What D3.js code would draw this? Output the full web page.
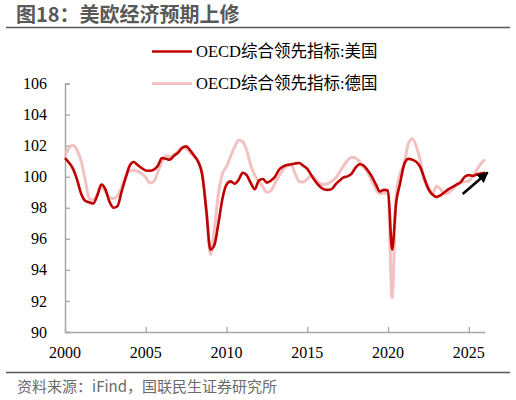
<!DOCTYPE html>
<html>
<head>
<meta charset="utf-8">
<script src="https://cdn.jsdelivr.net/npm/d3@7"></script>
<style>
  body { margin: 0; background: #fff; }
  svg { display: block; }
</style>
</head>
<body>
<div id="chart"></div>
<script>
// quarterly points, Jan 2000 .. Jan 2026
const dates = d3.timeMonth.every(3).range(new Date(2000, 0, 1), new Date(2026, 0, 2));

const usValues = [
  101.2, 100.9, 100.5, 99.8, 98.9, 98.45, 98.35, 98.27,      // 2000-2001
  98.8, 99.5, 99.2, 98.4, 98.0, 98.1, 99.0, 99.9,            // 2002-2003
  100.7, 100.95, 100.75, 100.55, 100.4, 100.38, 100.45, 100.7, // 2004-2005
  101.2, 101.15, 101.1, 101.35, 101.55, 101.85, 101.95, 101.7, // 2006-2007
  101.35, 100.95, 100.1, 97.8, 95.3, 95.6, 97.0, 98.6,       // 2008-2009
  99.5, 99.7, 99.55, 99.8, 100.25, 100.1, 99.6, 99.2,        // 2010-2011
  99.75, 99.85, 99.62, 99.75, 100.0, 100.45, 100.65, 100.75, // 2012-2013
  100.8, 100.85, 100.88, 100.7, 100.5, 100.1, 99.7, 99.4,    // 2014-2015
  99.2, 99.15, 99.2, 99.5, 99.75, 99.95, 100.02, 100.2,      // 2016-2017
  100.6, 100.8, 100.7, 100.4, 100.0, 99.5, 99.05, 99.15,     // 2018-2019
  99.1, 95.3, 98.3, 99.6, 100.8, 101.15, 101.1, 100.95,      // 2020-2021
  100.6, 99.9, 99.2, 98.85, 98.7, 98.8, 99.0, 99.2,          // 2022-2023
  99.35, 99.5, 99.65, 100.0, 100.1, 100.05, 100.15, 100.2,   // 2024-2025
  100.25                                                     // 2026
];

const deValues = [
  101.3, 101.85, 102.03, 101.7, 101.0, 99.8, 98.6, 98.5,
  98.85, 99.3, 99.05, 98.65, 98.6, 98.75, 99.3, 100.0,
  100.37, 100.4, 100.35, 100.2, 99.95, 99.6, 99.7, 100.3,
  100.95, 101.33, 101.3, 101.4, 101.65, 101.88, 101.8, 101.55,
  101.3, 101.0, 100.2, 97.9, 95.0, 96.6, 98.9, 100.2,
  100.65, 101.3, 101.9, 102.35, 102.25, 101.7, 100.75, 100.1,
  99.7, 99.35, 99.0, 99.1, 99.6, 100.05, 100.45, 100.7,
  100.75, 100.2, 99.7, 99.65, 99.85, 100.05, 99.85, 99.6,
  99.5, 99.55, 99.7, 99.9, 100.3, 100.7, 101.05, 101.25,
  101.2, 100.95, 100.6, 100.25, 99.7, 99.2, 98.9, 98.95,
  98.9, 92.2, 98.8, 100.2, 100.85, 102.1, 102.45, 101.95,
  101.0, 99.7, 99.35, 98.9, 99.4, 99.2, 98.9, 98.97,
  99.2, 99.45, 99.6, 99.68, 99.72, 100.05, 100.45, 100.85,
  101.1
];

const seriesNames = ["OECD综合领先指标:美国", "OECD综合领先指标:德国"];
const seriesColors = ["#C00000", "#F2C2C2"];
const yTicks = [90, 92, 94, 96, 98, 100, 102, 104, 106];
const xTickYears = [2000, 2005, 2010, 2015, 2020, 2025];

// arrow annotation (date, value) -> (date, value)
const arrowFrom = [new Date(2024, 7, 15), 98.88];
const arrowTo = [new Date(2026, 2, 1), 100.27];

const width = 516, height = 400;
const serif = "'Liberation Serif', 'Times New Roman', 'Noto Sans CJK SC', serif";
const sans = "'Noto Sans CJK SC', 'Noto Sans', sans-serif";

const svg = d3.select("#chart").append("svg")
    .attr("width", width)
    .attr("height", height);

// title + rules
svg.append("text")
    .attr("x", 16).attr("y", 22)
    .attr("font-family", sans)
    .attr("font-weight", "bold")
    .attr("font-size", 20)
    .attr("fill", "#595959")
    .text("图18：美欧经济预期上修");

svg.append("line")
    .attr("x1", 6).attr("x2", 510).attr("y1", 27.5).attr("y2", 27.5)
    .attr("stroke", "#595959").attr("stroke-width", 1.6);

svg.append("line")
    .attr("x1", 6).attr("x2", 510).attr("y1", 372.5).attr("y2", 372.5)
    .attr("stroke", "#595959").attr("stroke-width", 1.6);

svg.append("text")
    .attr("x", 17).attr("y", 392)
    .attr("font-family", sans)
    .attr("font-size", 15)
    .attr("fill", "#6b6b6b")
    .text("资料来源：iFind，国联民生证券研究所");

// scales
const x = d3.scaleTime()
    .domain([new Date(2000, 0, 1), new Date(2026, 0, 1)])
    .range([65, 485]);

const y = d3.scaleLinear()
    .domain([90, 106])
    .range([332, 83.5]);

const axisColor = "#a6a6a6";

// y axis, ticks inside
const yAxis = svg.append("g")
    .attr("transform", "translate(65,0)")
    .call(d3.axisRight(y).tickValues(yTicks).tickSize(5).tickFormat(""));
yAxis.select(".domain").attr("stroke", axisColor).attr("stroke-width", 1.5);
yAxis.selectAll(".tick line").attr("stroke", axisColor).attr("stroke-width", 1.3);

svg.append("g").selectAll("text")
    .data(yTicks)
    .join("text")
    .attr("x", 47)
    .attr("y", d => y(d))
    .attr("dy", "0.35em")
    .attr("text-anchor", "end")
    .attr("font-family", serif)
    .attr("font-size", 16)
    .attr("fill", "#000")
    .text(d => d);

// x axis, ticks inside
const xAxis = svg.append("g")
    .attr("transform", "translate(0,332)")
    .call(d3.axisTop(x)
        .tickValues(xTickYears.map(v => new Date(v, 0, 1)))
        .tickSize(5).tickSizeOuter(0).tickFormat(""));
xAxis.select(".domain").attr("stroke", axisColor).attr("stroke-width", 1.5);
xAxis.selectAll(".tick line").attr("stroke", axisColor).attr("stroke-width", 1.3);

svg.append("g").selectAll("text")
    .data(xTickYears)
    .join("text")
    .attr("x", d => x(new Date(d, 0, 1)))
    .attr("y", 358)
    .attr("text-anchor", "middle")
    .attr("font-family", serif)
    .attr("font-size", 16)
    .attr("fill", "#000")
    .text(d => d);

// lines
const line = d3.line()
    .x(d => x(d[0]))
    .y(d => y(d[1]))
    .curve(d3.curveMonotoneX);

const series = [usValues, deValues];
const widths = [2.6, 3];
[1, 0].forEach(i => {
    svg.append("path")
        .datum(dates.map((d, k) => [d, series[i][k]]))
        .attr("fill", "none")
        .attr("stroke", seriesColors[i])
        .attr("stroke-width", widths[i])
        .attr("stroke-linejoin", "round")
        .attr("d", line);
});

// legend
const legend = svg.append("g");
seriesNames.forEach((name, i) => {
    const ly = 51.5 + i * 32;
    legend.append("line")
        .attr("x1", 152).attr("x2", 192)
        .attr("y1", ly).attr("y2", ly)
        .attr("stroke", seriesColors[i])
        .attr("stroke-width", widths[i]);
    legend.append("text")
        .attr("x", 196).attr("y", ly)
        .attr("dy", "0.35em")
        .attr("font-family", serif)
        .attr("font-size", 16.5)
        .attr("fill", "#000")
        .text(name);
});

// arrow
svg.append("defs").append("marker")
    .attr("id", "head")
    .attr("viewBox", "0 0 10 10")
    .attr("refX", 9).attr("refY", 5)
    .attr("markerWidth", 4.2).attr("markerHeight", 4.2)
    .attr("orient", "auto")
    .append("path")
    .attr("d", "M0,0 L10,5 L0,10 z")
    .attr("fill", "#000");

svg.append("line")
    .attr("x1", x(arrowFrom[0])).attr("y1", y(arrowFrom[1]))
    .attr("x2", x(arrowTo[0])).attr("y2", y(arrowTo[1]))
    .attr("stroke", "#000")
    .attr("stroke-width", 2.6)
    .attr("marker-end", "url(#head)");
</script>
</body>
</html>
